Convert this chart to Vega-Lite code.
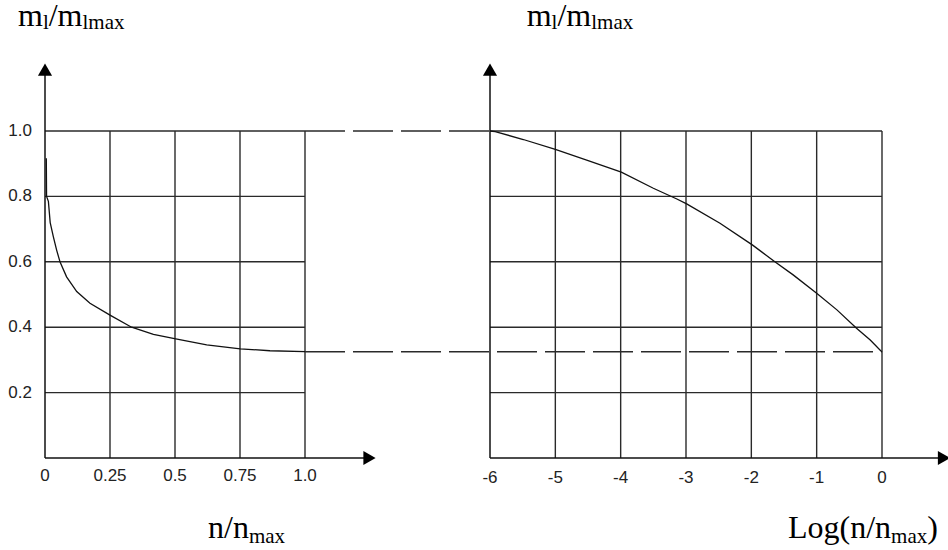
{
  "$schema": "https://vega.github.io/schema/vega-lite/v6.json",
  "width": 948,
  "height": 550,
  "autosize": "none",
  "padding": 0,
  "background": "white",
  "config": {"view": {"stroke": null}},
  "datasets": {
    "leftGrid": [
      {"n": 0.25, "n2": 0.25, "m": 0, "m2": 1},
      {"n": 0.5, "n2": 0.5, "m": 0, "m2": 1},
      {"n": 0.75, "n2": 0.75, "m": 0, "m2": 1},
      {"n": 1.0, "n2": 1.0, "m": 0, "m2": 1},
      {"n": 0, "n2": 1, "m": 0.2, "m2": 0.2},
      {"n": 0, "n2": 1, "m": 0.4, "m2": 0.4},
      {"n": 0, "n2": 1, "m": 0.6, "m2": 0.6},
      {"n": 0, "n2": 1, "m": 0.8, "m2": 0.8},
      {"n": 0, "n2": 1, "m": 1.0, "m2": 1.0}
    ],
    "leftAxes": [
      {"n": 0, "n2": 1.24, "m": 0, "m2": 0},
      {"n": 0, "n2": 0, "m": 0, "m2": 1.18}
    ],
    "connectors": [
      {"n": 1.0, "n2": 1.7115, "m": 1.0, "m2": 1.0},
      {"n": 1.0, "n2": 3.2192, "m": 0.325, "m2": 0.325}
    ],
    "leftCurve": [
      {"n": 0.005, "m": 0.917},
      {"n": 0.006, "m": 0.80},
      {"n": 0.013, "m": 0.785},
      {"n": 0.02, "m": 0.72},
      {"n": 0.032, "m": 0.677},
      {"n": 0.045, "m": 0.635},
      {"n": 0.058, "m": 0.599},
      {"n": 0.083, "m": 0.554},
      {"n": 0.122, "m": 0.509},
      {"n": 0.173, "m": 0.473},
      {"n": 0.25, "m": 0.437},
      {"n": 0.333, "m": 0.40},
      {"n": 0.417, "m": 0.378},
      {"n": 0.503, "m": 0.364},
      {"n": 0.622, "m": 0.346},
      {"n": 0.751, "m": 0.334},
      {"n": 0.865, "m": 0.328},
      {"n": 1.0, "m": 0.325}
    ],
    "leftXTicks": [
      {"n": 0, "label": "0"},
      {"n": 0.25, "label": "0.25"},
      {"n": 0.5, "label": "0.5"},
      {"n": 0.75, "label": "0.75"},
      {"n": 1.0, "label": "1.0"}
    ],
    "leftYTicks": [
      {"m": 0.2, "label": "0.2"},
      {"m": 0.4, "label": "0.4"},
      {"m": 0.6, "label": "0.6"},
      {"m": 0.8, "label": "0.8"},
      {"m": 1.0, "label": "1.0"}
    ],
    "rightGrid": [
      {"l": -5, "l2": -5, "m": 0, "m2": 1},
      {"l": -4, "l2": -4, "m": 0, "m2": 1},
      {"l": -3, "l2": -3, "m": 0, "m2": 1},
      {"l": -2, "l2": -2, "m": 0, "m2": 1},
      {"l": -1, "l2": -1, "m": 0, "m2": 1},
      {"l": 0, "l2": 0, "m": 0, "m2": 1},
      {"l": -6, "l2": 0, "m": 0.2, "m2": 0.2},
      {"l": -6, "l2": 0, "m": 0.4, "m2": 0.4},
      {"l": -6, "l2": 0, "m": 0.6, "m2": 0.6},
      {"l": -6, "l2": 0, "m": 0.8, "m2": 0.8},
      {"l": -6, "l2": 0, "m": 1.0, "m2": 1.0}
    ],
    "rightAxes": [
      {"l": -6, "l2": 0.94, "m": 0, "m2": 0},
      {"l": -6, "l2": -6, "m": 0, "m2": 1.18}
    ],
    "rightCurve": [
      {"l": -6, "m": 1.0},
      {"l": -5.92, "m": 0.998},
      {"l": -5.49, "m": 0.974},
      {"l": -5.0, "m": 0.944},
      {"l": -4.52, "m": 0.911},
      {"l": -3.99, "m": 0.874},
      {"l": -3.5, "m": 0.825},
      {"l": -3.14, "m": 0.792},
      {"l": -2.99, "m": 0.777},
      {"l": -2.48, "m": 0.718},
      {"l": -1.98, "m": 0.651},
      {"l": -1.64, "m": 0.6},
      {"l": -1.36, "m": 0.56},
      {"l": -1.0, "m": 0.504},
      {"l": -0.69, "m": 0.453},
      {"l": -0.39, "m": 0.397},
      {"l": -0.18, "m": 0.361},
      {"l": -0.02, "m": 0.328},
      {"l": 0, "m": 0.325}
    ],
    "rightXTicks": [
      {"l": -6, "label": "-6"},
      {"l": -5, "label": "-5"},
      {"l": -4, "label": "-4"},
      {"l": -3, "label": "-3"},
      {"l": -2, "label": "-2"},
      {"l": -1, "label": "-1"},
      {"l": 0, "label": "0"}
    ],
    "one": [{}]
  },
  "resolve": {"scale": {"x": "independent"}},
  "layer": [
    {
      "layer": [
        {
          "data": {"name": "leftGrid"},
          "mark": {"type": "rule", "color": "#2a2a2a", "strokeWidth": 1.4},
          "encoding": {
            "x": {"field": "n", "type": "quantitative", "scale": {"domain": [-0.173077, 3.473077], "nice": false, "zero": false}, "axis": null},
            "x2": {"field": "n2"},
            "y": {"field": "m", "type": "quantitative", "scale": {"domain": [-0.281346, 1.400612], "nice": false, "zero": false}, "axis": null},
            "y2": {"field": "m2"}
          }
        },
        {
          "data": {"name": "leftAxes"},
          "mark": {"type": "rule", "color": "#111", "strokeWidth": 1.5},
          "encoding": {
            "x": {"field": "n", "type": "quantitative", "scale": {"domain": [-0.173077, 3.473077], "nice": false, "zero": false}, "axis": null},
            "x2": {"field": "n2"},
            "y": {"field": "m", "type": "quantitative", "scale": {"domain": [-0.281346, 1.400612], "nice": false, "zero": false}, "axis": null},
            "y2": {"field": "m2"}
          }
        },
        {
          "data": {"name": "connectors"},
          "mark": {"type": "rule", "color": "#2a2a2a", "strokeWidth": 1.4, "strokeDash": [40, 8]},
          "encoding": {
            "x": {"field": "n", "type": "quantitative", "scale": {"domain": [-0.173077, 3.473077], "nice": false, "zero": false}, "axis": null},
            "x2": {"field": "n2"},
            "y": {"field": "m", "type": "quantitative", "scale": {"domain": [-0.281346, 1.400612], "nice": false, "zero": false}, "axis": null},
            "y2": {"field": "m2"}
          }
        },
        {
          "data": {"name": "leftCurve"},
          "mark": {"type": "line", "color": "#111", "strokeWidth": 1.3},
          "encoding": {
            "x": {"field": "n", "type": "quantitative", "scale": {"domain": [-0.173077, 3.473077], "nice": false, "zero": false}, "axis": null},
            "y": {"field": "m", "type": "quantitative", "scale": {"domain": [-0.281346, 1.400612], "nice": false, "zero": false}, "axis": null}
          }
        },
        {
          "data": {"name": "one"},
          "mark": {"type": "point", "shape": "triangle-up", "filled": true, "size": 200, "color": "black", "opacity": 1},
          "encoding": {
            "x": {"datum": 0, "type": "quantitative", "scale": {"domain": [-0.173077, 3.473077], "nice": false, "zero": false}, "axis": null},
            "y": {"datum": 1.188, "type": "quantitative", "scale": {"domain": [-0.281346, 1.400612], "nice": false, "zero": false}, "axis": null}
          }
        },
        {
          "data": {"name": "one"},
          "mark": {"type": "point", "shape": "triangle-right", "filled": true, "size": 200, "color": "black", "opacity": 1},
          "encoding": {
            "x": {"datum": 1.248, "type": "quantitative", "scale": {"domain": [-0.173077, 3.473077], "nice": false, "zero": false}, "axis": null},
            "y": {"datum": 0, "type": "quantitative", "scale": {"domain": [-0.281346, 1.400612], "nice": false, "zero": false}, "axis": null}
          }
        },
        {
          "data": {"name": "leftXTicks"},
          "mark": {"type": "text", "font": "Liberation Sans", "fontSize": 17, "color": "#222", "align": "center", "baseline": "middle", "dy": 18},
          "encoding": {
            "x": {"field": "n", "type": "quantitative", "scale": {"domain": [-0.173077, 3.473077], "nice": false, "zero": false}, "axis": null},
            "y": {"datum": 0, "type": "quantitative", "scale": {"domain": [-0.281346, 1.400612], "nice": false, "zero": false}, "axis": null},
            "text": {"field": "label"}
          }
        },
        {
          "data": {"name": "leftYTicks"},
          "mark": {"type": "text", "font": "Liberation Sans", "fontSize": 17, "color": "#222", "align": "right", "baseline": "middle", "dx": -13},
          "encoding": {
            "x": {"datum": 0, "type": "quantitative", "scale": {"domain": [-0.173077, 3.473077], "nice": false, "zero": false}, "axis": null},
            "y": {"field": "m", "type": "quantitative", "scale": {"domain": [-0.281346, 1.400612], "nice": false, "zero": false}, "axis": null},
            "text": {"field": "label"}
          }
        },
        {
          "data": {"name": "one"},
          "mark": {"type": "text", "text": "m", "font": "Liberation Serif", "fontSize": 32, "color": "black", "align": "left", "baseline": "alphabetic"},
          "encoding": {
            "x": {"datum": -0.1038, "type": "quantitative", "scale": {"domain": [-0.173077, 3.473077], "nice": false, "zero": false}, "axis": null},
            "y": {"datum": 1.3211, "type": "quantitative", "scale": {"domain": [-0.281346, 1.400612], "nice": false, "zero": false}, "axis": null}
          }
        },
        {
          "data": {"name": "one"},
          "mark": {"type": "text", "text": "l", "font": "Liberation Serif", "fontSize": 21, "color": "black", "align": "left", "baseline": "alphabetic", "dx": 24.9, "dy": 3},
          "encoding": {
            "x": {"datum": -0.1038, "type": "quantitative", "scale": {"domain": [-0.173077, 3.473077], "nice": false, "zero": false}, "axis": null},
            "y": {"datum": 1.3211, "type": "quantitative", "scale": {"domain": [-0.281346, 1.400612], "nice": false, "zero": false}, "axis": null}
          }
        },
        {
          "data": {"name": "one"},
          "mark": {"type": "text", "text": "/m", "font": "Liberation Serif", "fontSize": 32, "color": "black", "align": "left", "baseline": "alphabetic", "dx": 30.7},
          "encoding": {
            "x": {"datum": -0.1038, "type": "quantitative", "scale": {"domain": [-0.173077, 3.473077], "nice": false, "zero": false}, "axis": null},
            "y": {"datum": 1.3211, "type": "quantitative", "scale": {"domain": [-0.281346, 1.400612], "nice": false, "zero": false}, "axis": null}
          }
        },
        {
          "data": {"name": "one"},
          "mark": {"type": "text", "text": "lmax", "font": "Liberation Serif", "fontSize": 21, "color": "black", "align": "left", "baseline": "alphabetic", "dx": 64.5, "dy": 3},
          "encoding": {
            "x": {"datum": -0.1038, "type": "quantitative", "scale": {"domain": [-0.173077, 3.473077], "nice": false, "zero": false}, "axis": null},
            "y": {"datum": 1.3211, "type": "quantitative", "scale": {"domain": [-0.281346, 1.400612], "nice": false, "zero": false}, "axis": null}
          }
        },
        {
          "data": {"name": "one"},
          "mark": {"type": "text", "text": "n/n", "font": "Liberation Serif", "fontSize": 32, "color": "black", "align": "left", "baseline": "alphabetic"},
          "encoding": {
            "x": {"datum": 0.627, "type": "quantitative", "scale": {"domain": [-0.173077, 3.473077], "nice": false, "zero": false}, "axis": null},
            "y": {"datum": -0.24465, "type": "quantitative", "scale": {"domain": [-0.281346, 1.400612], "nice": false, "zero": false}, "axis": null}
          }
        },
        {
          "data": {"name": "one"},
          "mark": {"type": "text", "text": "max", "font": "Liberation Serif", "fontSize": 21, "color": "black", "align": "left", "baseline": "alphabetic", "dx": 40.9, "dy": 5},
          "encoding": {
            "x": {"datum": 0.627, "type": "quantitative", "scale": {"domain": [-0.173077, 3.473077], "nice": false, "zero": false}, "axis": null},
            "y": {"datum": -0.24465, "type": "quantitative", "scale": {"domain": [-0.281346, 1.400612], "nice": false, "zero": false}, "axis": null}
          }
        }
      ]
    },
    {
      "layer": [
        {
          "data": {"name": "rightGrid"},
          "mark": {"type": "rule", "color": "#2a2a2a", "strokeWidth": 1.4},
          "encoding": {
            "x": {"field": "l", "type": "quantitative", "scale": {"domain": [-13.5, 1.0102], "nice": false, "zero": false}, "axis": null},
            "x2": {"field": "l2"},
            "y": {"field": "m", "type": "quantitative", "scale": {"domain": [-0.281346, 1.400612], "nice": false, "zero": false}, "axis": null},
            "y2": {"field": "m2"}
          }
        },
        {
          "data": {"name": "rightAxes"},
          "mark": {"type": "rule", "color": "#111", "strokeWidth": 1.5},
          "encoding": {
            "x": {"field": "l", "type": "quantitative", "scale": {"domain": [-13.5, 1.0102], "nice": false, "zero": false}, "axis": null},
            "x2": {"field": "l2"},
            "y": {"field": "m", "type": "quantitative", "scale": {"domain": [-0.281346, 1.400612], "nice": false, "zero": false}, "axis": null},
            "y2": {"field": "m2"}
          }
        },
        {
          "data": {"name": "rightCurve"},
          "mark": {"type": "line", "color": "#111", "strokeWidth": 1.3},
          "encoding": {
            "x": {"field": "l", "type": "quantitative", "scale": {"domain": [-13.5, 1.0102], "nice": false, "zero": false}, "axis": null},
            "y": {"field": "m", "type": "quantitative", "scale": {"domain": [-0.281346, 1.400612], "nice": false, "zero": false}, "axis": null}
          }
        },
        {
          "data": {"name": "one"},
          "mark": {"type": "point", "shape": "triangle-up", "filled": true, "size": 200, "color": "black", "opacity": 1},
          "encoding": {
            "x": {"datum": -6, "type": "quantitative", "scale": {"domain": [-13.5, 1.0102], "nice": false, "zero": false}, "axis": null},
            "y": {"datum": 1.188, "type": "quantitative", "scale": {"domain": [-0.281346, 1.400612], "nice": false, "zero": false}, "axis": null}
          }
        },
        {
          "data": {"name": "one"},
          "mark": {"type": "point", "shape": "triangle-right", "filled": true, "size": 200, "color": "black", "opacity": 1},
          "encoding": {
            "x": {"datum": 0.949, "type": "quantitative", "scale": {"domain": [-13.5, 1.0102], "nice": false, "zero": false}, "axis": null},
            "y": {"datum": 0, "type": "quantitative", "scale": {"domain": [-0.281346, 1.400612], "nice": false, "zero": false}, "axis": null}
          }
        },
        {
          "data": {"name": "rightXTicks"},
          "mark": {"type": "text", "font": "Liberation Sans", "fontSize": 17, "color": "#222", "align": "center", "baseline": "middle", "dy": 20},
          "encoding": {
            "x": {"field": "l", "type": "quantitative", "scale": {"domain": [-13.5, 1.0102], "nice": false, "zero": false}, "axis": null},
            "y": {"datum": 0, "type": "quantitative", "scale": {"domain": [-0.281346, 1.400612], "nice": false, "zero": false}, "axis": null},
            "text": {"field": "label"}
          }
        },
        {
          "data": {"name": "one"},
          "mark": {"type": "text", "text": "m", "font": "Liberation Serif", "fontSize": 32, "color": "black", "align": "left", "baseline": "alphabetic"},
          "encoding": {
            "x": {"datum": -5.438, "type": "quantitative", "scale": {"domain": [-13.5, 1.0102], "nice": false, "zero": false}, "axis": null},
            "y": {"datum": 1.3211, "type": "quantitative", "scale": {"domain": [-0.281346, 1.400612], "nice": false, "zero": false}, "axis": null}
          }
        },
        {
          "data": {"name": "one"},
          "mark": {"type": "text", "text": "l", "font": "Liberation Serif", "fontSize": 21, "color": "black", "align": "left", "baseline": "alphabetic", "dx": 24.9, "dy": 3},
          "encoding": {
            "x": {"datum": -5.438, "type": "quantitative", "scale": {"domain": [-13.5, 1.0102], "nice": false, "zero": false}, "axis": null},
            "y": {"datum": 1.3211, "type": "quantitative", "scale": {"domain": [-0.281346, 1.400612], "nice": false, "zero": false}, "axis": null}
          }
        },
        {
          "data": {"name": "one"},
          "mark": {"type": "text", "text": "/m", "font": "Liberation Serif", "fontSize": 32, "color": "black", "align": "left", "baseline": "alphabetic", "dx": 30.7},
          "encoding": {
            "x": {"datum": -5.438, "type": "quantitative", "scale": {"domain": [-13.5, 1.0102], "nice": false, "zero": false}, "axis": null},
            "y": {"datum": 1.3211, "type": "quantitative", "scale": {"domain": [-0.281346, 1.400612], "nice": false, "zero": false}, "axis": null}
          }
        },
        {
          "data": {"name": "one"},
          "mark": {"type": "text", "text": "lmax", "font": "Liberation Serif", "fontSize": 21, "color": "black", "align": "left", "baseline": "alphabetic", "dx": 64.5, "dy": 3},
          "encoding": {
            "x": {"datum": -5.438, "type": "quantitative", "scale": {"domain": [-13.5, 1.0102], "nice": false, "zero": false}, "axis": null},
            "y": {"datum": 1.3211, "type": "quantitative", "scale": {"domain": [-0.281346, 1.400612], "nice": false, "zero": false}, "axis": null}
          }
        },
        {
          "data": {"name": "one"},
          "mark": {"type": "text", "text": "Log(n/n", "font": "Liberation Serif", "fontSize": 32, "color": "black", "align": "left", "baseline": "alphabetic"},
          "encoding": {
            "x": {"datum": -1.439, "type": "quantitative", "scale": {"domain": [-13.5, 1.0102], "nice": false, "zero": false}, "axis": null},
            "y": {"datum": -0.24465, "type": "quantitative", "scale": {"domain": [-0.281346, 1.400612], "nice": false, "zero": false}, "axis": null}
          }
        },
        {
          "data": {"name": "one"},
          "mark": {"type": "text", "text": "max", "font": "Liberation Serif", "fontSize": 21, "color": "black", "align": "left", "baseline": "alphabetic", "dx": 103.1, "dy": 5},
          "encoding": {
            "x": {"datum": -1.439, "type": "quantitative", "scale": {"domain": [-13.5, 1.0102], "nice": false, "zero": false}, "axis": null},
            "y": {"datum": -0.24465, "type": "quantitative", "scale": {"domain": [-0.281346, 1.400612], "nice": false, "zero": false}, "axis": null}
          }
        },
        {
          "data": {"name": "one"},
          "mark": {"type": "text", "text": ")", "font": "Liberation Serif", "fontSize": 32, "color": "black", "align": "left", "baseline": "alphabetic", "dx": 139.3},
          "encoding": {
            "x": {"datum": -1.439, "type": "quantitative", "scale": {"domain": [-13.5, 1.0102], "nice": false, "zero": false}, "axis": null},
            "y": {"datum": -0.24465, "type": "quantitative", "scale": {"domain": [-0.281346, 1.400612], "nice": false, "zero": false}, "axis": null}
          }
        }
      ]
    }
  ]
}
